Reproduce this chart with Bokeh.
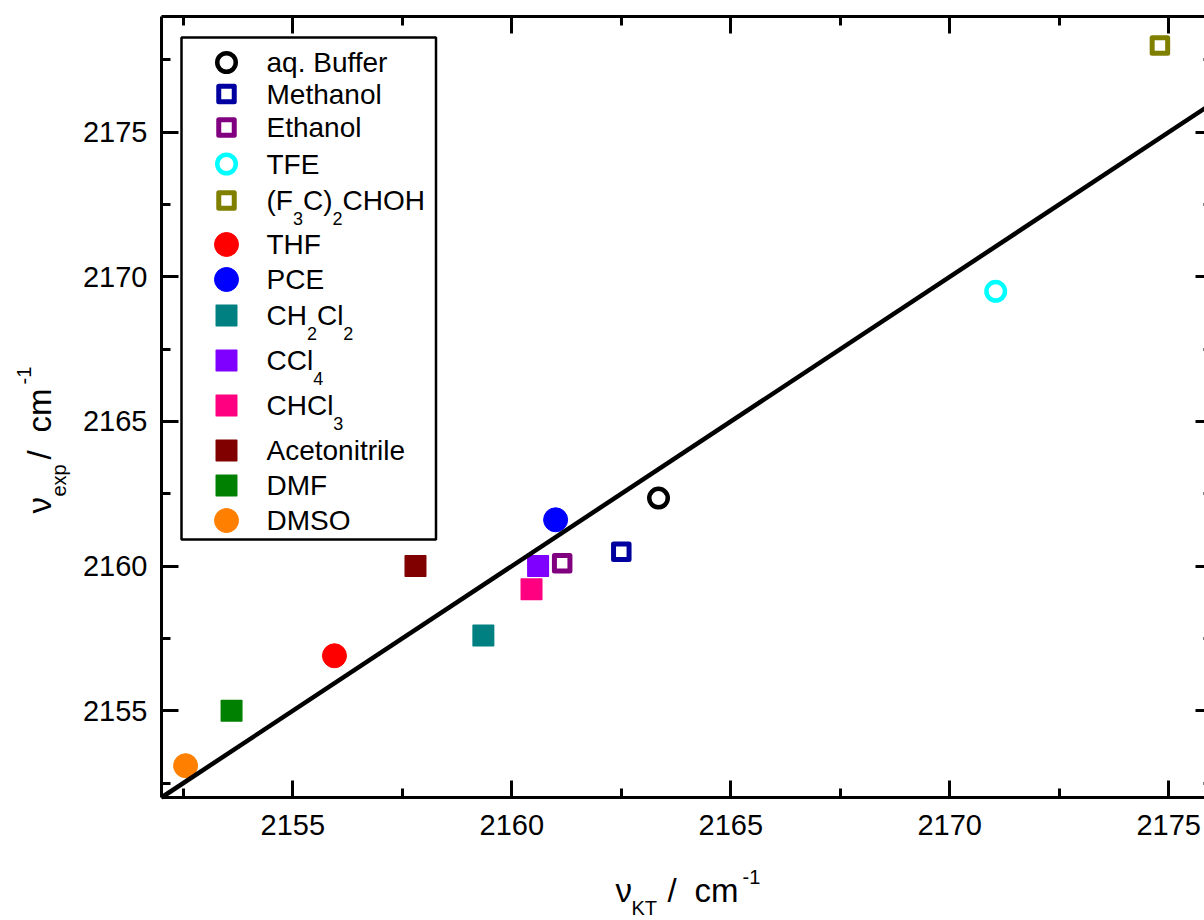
import math
from bokeh.plotting import figure
from bokeh.models import (Range1d, LinearAxis, SingleIntervalTicker,
                          CustomJSTickFormatter, Label, BoxAnnotation)
from bokeh.embed import file_html
from bokeh.resources import INLINE

# ---------------- data ----------------
names = ["aq. Buffer", "Methanol", "Ethanol", "TFE", "(F3C)2CHOH", "THF", "PCE",
         "CH2Cl2", "CCl4", "CHCl3", "Acetonitrile", "DMF", "DMSO"]
nu_kt = [2163.35, 2162.5, 2161.15, 2171.05, 2174.8, 2155.95, 2161.0,
         2159.35, 2160.6, 2160.45, 2157.8, 2153.6, 2152.55]
nu_exp = [2162.35, 2160.5, 2160.1, 2169.5, 2178.0, 2156.9, 2161.6,
          2157.6, 2160.0, 2159.2, 2160.0, 2155.0, 2153.1]
fit_x = [2152.0, 2176.0]
fit_y = [2152.0, 2176.0]
x_bounds = (2152.0, 2176.0)
y_bounds = (2152.0, 2179.0)
tick_interval = 5

# ---------------- styles ----------------
kinds = ["ocircle", "osquare", "osquare", "ocircle", "osquare", "circle", "circle",
         "square", "square", "square", "square", "square", "circle"]
colors = ["#000000", "#0000A0", "#800080", "#00FFFF", "#808000", "#FF0000", "#0000FF",
          "#008080", "#8000FF", "#FF0080", "#800000", "#008000", "#FF8000"]

FONT = "Liberation Sans"
FIG_W, FIG_H = 1204, 920
ORG_PX, ORG_PY = 161, 797          # pixel position of the frame corner (2152, 2152)
PXX = 43.79                         # pixels per x unit
PXY = 781.0 / 27.0                  # pixels per y unit

X_RANGE = (x_bounds[0] - ORG_PX / PXX, x_bounds[0] + (FIG_W - ORG_PX) / PXX)
Y_RANGE = (y_bounds[0] - (FIG_H - ORG_PY) / PXY, y_bounds[0] + ORG_PY / PXY)


def px2x(px):
    return x_bounds[0] + (px - ORG_PX) / PXX


def py2y(py):
    return y_bounds[0] + (ORG_PY - py) / PXY


BASE_FIX = 0.32   # Label baseline correction (fraction of font size)

# Arial / Liberation Sans advance widths (per 1000 em)
AW = {' ': 278, '.': 278, '(': 333, ')': 333, '-': 333, '/': 278,
      'A': 667, 'B': 667, 'C': 722, 'D': 722, 'E': 667, 'F': 611, 'H': 722,
      'K': 667, 'M': 833, 'O': 778, 'P': 667, 'S': 667, 'T': 611,
      'a': 556, 'c': 500, 'e': 556, 'f': 278, 'h': 556, 'i': 222, 'l': 222,
      'm': 833, 'n': 556, 'o': 556, 'p': 556, 'q': 556, 'r': 333, 't': 278,
      'u': 556, 'x': 500}


def tw(s, size):
    return sum(AW.get(c, 556) for c in s) / 1000.0 * size


def style(kind, color):
    if kind == "ocircle":
        return dict(marker="circle", size=18.5, fill_color="white",
                    line_color=color, line_width=4.5)
    if kind == "osquare":
        return dict(marker="square", size=15.5, fill_color="white",
                    line_color=color, line_width=5, line_join="round")
    if kind == "circle":
        return dict(marker="circle", size=24, fill_color=color,
                    line_color=color, line_width=1)
    return dict(marker="square", size=20.5, fill_color=color,
                line_color=color, line_width=1.5, line_join="round")


p = figure(width=FIG_W, height=FIG_H, output_backend="svg", toolbar_location=None,
           x_range=Range1d(*X_RANGE), y_range=Range1d(*Y_RANGE),
           x_axis_location=None, y_axis_location=None,
           min_border=0, min_border_left=0, min_border_right=0,
           min_border_top=0, min_border_bottom=0, outline_line_color=None,
           background_fill_color="white", border_fill_color="white")
p.xgrid.visible = False
p.ygrid.visible = False

empty_fmt = CustomJSTickFormatter(code="return ''")


def make_axis(loc, bounds, labels=True):
    ax = LinearAxis(fixed_location=loc, bounds=bounds,
                    ticker=SingleIntervalTicker(interval=tick_interval, num_minor_ticks=2))
    ax.axis_line_width = 3
    ax.axis_line_color = "black"
    ax.major_tick_line_width = 3
    ax.minor_tick_line_width = 3
    ax.major_tick_in = 17
    ax.major_tick_out = 0
    ax.minor_tick_in = 9
    ax.minor_tick_out = 0
    ax.major_label_text_font = FONT
    ax.major_label_text_font_size = "29px"
    ax.major_label_text_color = "black"
    if not labels:
        ax.formatter = empty_fmt
        ax.major_label_standoff = 0
    return ax


bottom_ax = make_axis(y_bounds[0], x_bounds)
bottom_ax.major_label_standoff = 17
p.add_layout(bottom_ax, "below")

left_ax = make_axis(x_bounds[0], y_bounds)
left_ax.major_label_standoff = 14
p.add_layout(left_ax, "left")

top_ax = make_axis(y_bounds[1], x_bounds, labels=False)
p.add_layout(top_ax, "above")

right_ax = make_axis(x_bounds[1], y_bounds, labels=False)
right_ax.axis_line_color = None
p.add_layout(right_ax, "right")

# ---------------- data points ----------------
for i in range(len(names)):
    p.scatter([nu_kt[i]], [nu_exp[i]], **style(kinds[i], colors[i]))

p.line(fit_x, fit_y, line_color="black", line_width=4.5)


def add_text(txt, px, base_py, size, angle=0.0):
    if angle == 0.0:
        x, y = px2x(px), py2y(base_py - BASE_FIX * size)
    else:
        x, y = px2x(px - BASE_FIX * size), py2y(base_py)
    p.add_layout(Label(x=x, y=y, text=txt, angle=angle,
                       text_font=FONT, text_font_size=f"{size}px",
                       text_color="black", text_align="left",
                       text_baseline="alphabetic"))


# ---------------- legend (manual, to allow subscripts) ----------------
leg_rows = [62, 93.5, 127, 163.5, 200, 244, 279, 315, 360, 405, 450, 485, 520]
p.add_layout(BoxAnnotation(left=px2x(181), right=px2x(435.5), top=py2y(37),
                           bottom=py2y(539), fill_color=None, fill_alpha=0,
                           line_color="black", line_alpha=1.0, line_width=2.5))


def segments(name):
    segs = []
    for ch in name:
        sub = ch.isdigit()
        if segs and segs[-1][1] == sub:
            segs[-1][0] += ch
        else:
            segs.append([ch, sub])
    return segs


for i, name in enumerate(names):
    cy = leg_rows[i]
    p.scatter([px2x(226)], [py2y(cy)], **style(kinds[i], colors[i]))
    cur = 266.0
    for txt, sub in segments(name):
        size = 18 if sub else 28
        add_text(txt, cur, cy + 9 + (15 if sub else 0), size)
        cur += tw(txt, size)

# ---------------- axis titles (composed for sub/superscripts) ----------------
# x title: reads left to right, baseline at y=902
for txt, off, shift, size in [("\u03bd", 0, 0, 33), ("KT", 16, 13, 20), ("/", 52, 0, 33),
                              ("cm", 79, 0, 33), ("-1", 127, -18, 20)]:
    add_text(txt, 615 + off, 901 + shift, size)

# y title: rotated, reads bottom to top, baseline at x=50
for txt, off, shift, size in [("\u03bd", 0, 0, 33), ("exp", 17, 15, 20), ("/", 54, 0, 33),
                              ("cm", 81, 0, 33), ("-1", 129, -20, 20)]:
    p.add_layout(Label(x=px2x(50 + shift - BASE_FIX * size), y=py2y(513 - off),
                       text=txt, angle=math.pi / 2,
                       text_font=FONT, text_font_size=f"{size}px",
                       text_color="black", text_align="left",
                       text_baseline="alphabetic"))

open("out.html", "w").write(file_html(p, INLINE))
